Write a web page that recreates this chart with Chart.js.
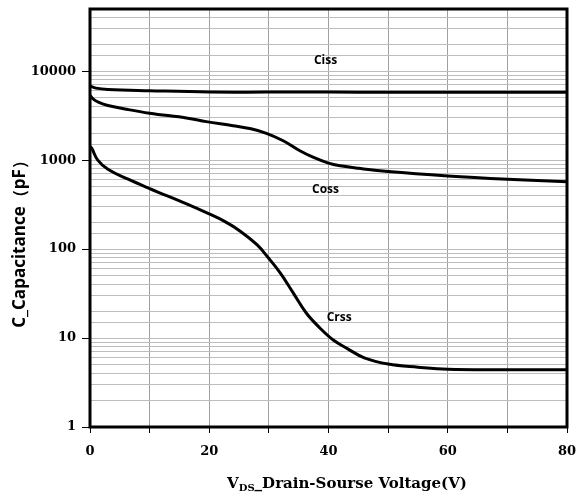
<!DOCTYPE html>
<html>
<head>
<meta charset="utf-8">
<script src="https://cdn.jsdelivr.net/npm/chart.js@4"></script>
<style>
  html, body { margin: 0; padding: 0; background: #fff; }
  #wrap { width: 582px; height: 497px; }
</style>
</head>
<body>
<div id="wrap"><canvas id="cap"></canvas></div>
<script>
// V_DS (V) and capacitance (pF)
const vCiss = [0, 1, 3, 10, 20, 30, 40, 50, 60, 70, 80];
const ciss = [6800, 6450, 6230, 6030, 5830, 5820, 5815, 5810, 5805, 5800, 5800];

const vCoss = [0, 0.5, 1.5, 3, 6.4, 10, 16.4, 19.5, 24, 27, 29.6, 32.4, 35.2, 37.5, 40, 42, 45, 50, 60, 70, 80];
const coss = [5350, 4890, 4450, 4110, 3700, 3370, 2960, 2710, 2440, 2250, 2000, 1650, 1275, 1072, 925, 863, 810, 745, 665, 610, 570];

const vCrss = [0, 0.3, 1.3, 3, 6.4, 10, 16.4, 19.8, 22.5, 25.2, 28, 29.9, 31.9, 34.1, 36.3, 38.6, 40.8, 43.1, 46, 50, 55, 60, 70, 80];
const crss = [1420, 1356, 1000, 790, 610, 479, 318, 252, 206, 159, 112, 80, 54, 32, 19, 12.9, 9.5, 7.65, 6, 5.1, 4.7, 4.45, 4.4, 4.4];

const curveNames = ["Ciss", "Coss", "Crss"];
// where each curve name sits, in data units
const nameAt = [[39.5, 13200], [39.5, 470], [41.8, 16.8]];

const toPts = (xs, ys) => xs.map((x, i) => ({ x: x, y: ys[i] }));
const isDecade = (v) => Math.abs(Math.log10(v) - Math.round(Math.log10(v))) < 1e-9;

const extras = {
  id: "extras",
  afterDraw(chart) {
    const { ctx, chartArea: a, scales } = chart;
    ctx.save();
    // frame
    ctx.strokeStyle = "#000";
    ctx.lineWidth = 3;
    ctx.strokeRect(a.left, a.top, a.right - a.left, a.bottom - a.top);
    // curve names
    ctx.fillStyle = "#000";
    ctx.font = "bold 12px 'Open Sans'";
    ctx.textAlign = "center";
    ctx.textBaseline = "middle";
    curveNames.forEach((n, i) => {
      ctx.fillText(n, scales.x.getPixelForValue(nameAt[i][0]), scales.y.getPixelForValue(nameAt[i][1]));
    });
    // y title
    ctx.save();
    ctx.translate(20, 240);
    ctx.rotate(-Math.PI / 2);
    ctx.font = "bold 17px 'Open Sans'";
    ctx.fillText("C_Capacitance（pF）", 0, 0);
    ctx.restore();
    // x title with subscript
    const big = "bold 15px 'DejaVu Serif'";
    const small = "bold 10px 'DejaVu Serif'";
    const rest = "_Drain-Sourse Voltage(V)";
    ctx.font = big;
    const wV = ctx.measureText("V").width;
    const wR = ctx.measureText(rest).width;
    ctx.font = small;
    const wS = ctx.measureText("DS").width;
    let x = 347 - (wV + wS + wR) / 2;
    const y = 488;
    ctx.textAlign = "left";
    ctx.textBaseline = "alphabetic";
    ctx.font = big;
    ctx.fillText("V", x, y);
    x += wV;
    ctx.font = small;
    ctx.fillText("DS", x, y + 3);
    x += wS;
    ctx.font = big;
    ctx.fillText(rest, x, y);
    ctx.restore();
  }
};

const line = (pts) => ({
  data: pts,
  borderColor: "#000",
  borderWidth: 3,
  pointRadius: 0,
  fill: false,
  tension: 0.4
});

new Chart(document.getElementById("cap"), {
  type: "line",
  data: {
    datasets: [
      line(toPts(vCiss, ciss)),
      line(toPts(vCoss, coss)),
      line(toPts(vCrss, crss))
    ]
  },
  options: {
    responsive: true,
    maintainAspectRatio: false,
    animation: false,
    layout: { padding: { top: 9, right: 15, left: 0, bottom: 0 } },
    plugins: { legend: { display: false }, tooltip: { enabled: false } },
    scales: {
      x: {
        type: "linear",
        min: 0,
        max: 80,
        afterFit: (s) => { s.height = 70; s.paddingLeft = 0; s.paddingRight = 0; },
        border: { display: false },
        grid: { color: "#a0a0a0", lineWidth: 1, tickLength: 6, tickColor: "#000" },
        ticks: {
          stepSize: 10,
          autoSkip: false,
          maxRotation: 0,
          padding: 11,
          color: "#000",
          font: { family: "'DejaVu Serif'", size: 13, weight: "bold" },
          callback: (v) => (v % 20 === 0 ? String(v) : "")
        }
      },
      y: {
        type: "logarithmic",
        min: 1,
        max: 50000,
        afterFit: (s) => { s.width = 90; s.paddingTop = 0; s.paddingBottom = 0; },
        border: { display: false },
        grid: {
          color: "#bdbdbd",
          lineWidth: 1,
          tickLength: 8,
          tickColor: (c) => (c.tick && isDecade(c.tick.value) ? "#000" : "rgba(0,0,0,0)")
        },
        ticks: {
          autoSkip: false,
          padding: 6,
          color: "#000",
          font: { family: "'DejaVu Serif'", size: 13, weight: "bold" },
          callback: (v) => (isDecade(v) ? String(v) : "")
        }
      }
    }
  },
  plugins: [extras]
});
</script>
</body>
</html>
